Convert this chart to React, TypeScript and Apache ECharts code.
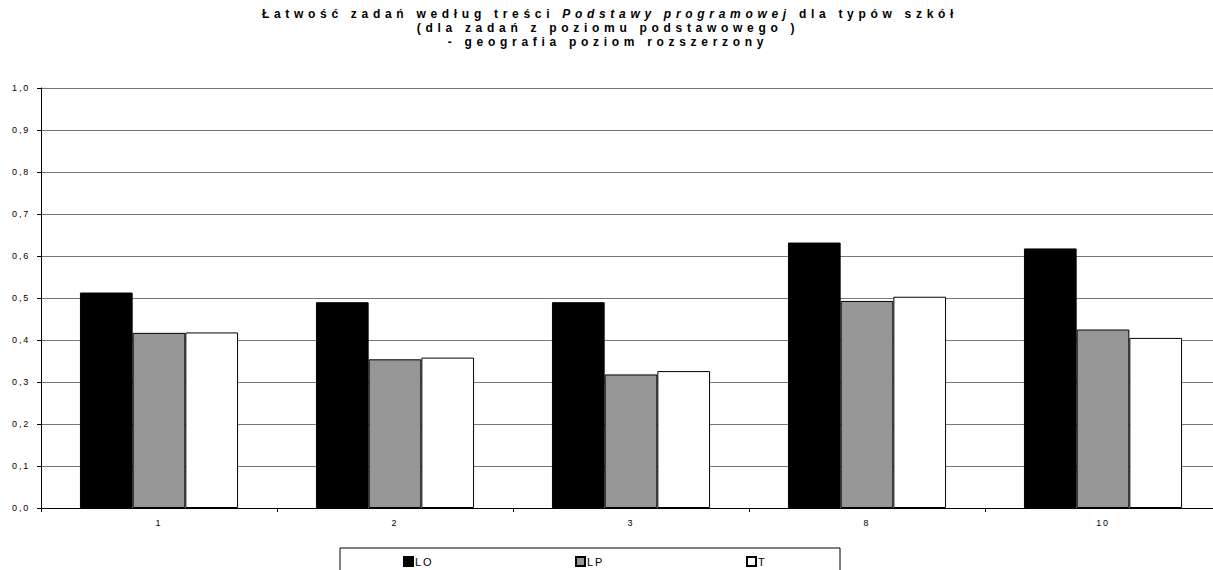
import React, { useEffect, useRef } from "react";
import * as echarts from "echarts";

// ---- data ----
const categories = ["1", "2", "3", "8", "10"];
const seriesNames = ["LO", "LP", "T"];
const valuesLO = [0.513, 0.49, 0.49, 0.632, 0.618];
const valuesLP = [0.417, 0.354, 0.318, 0.493, 0.425];
const valuesT = [0.418, 0.358, 0.326, 0.503, 0.405];
const yTickLabels = ["0,0", "0,1", "0,2", "0,3", "0,4", "0,5", "0,6", "0,7", "0,8", "0,9", "1,0"];

const titleLine1 = [
  { text: "Łatwość zadań według treści", italic: false },
  { text: "Podstawy programowej", italic: true },
  { text: "dla typów szkół", italic: false },
];
const titleLine2 = "(dla zadań z poziomu podstawowego )";
const titleLine3 = "- geografia poziom rozszerzony";

// ---- style ----
const FONT = "Liberation Sans";
const TITLE_SIZE = 12;
const TITLE_SPACING = 4.7;
const LABEL_SPACING = 1.8;
const TITLE_CX = 610;
const barColors = ["#000000", "#969696", "#ffffff"];

export default function App() {
  const ref = useRef<HTMLDivElement>(null);

  useEffect(() => {
    const el = ref.current!;
    const chart = echarts.init(el, null, { renderer: "svg" });

    const canvas = document.createElement("canvas");
    const ctx = canvas.getContext("2d")!;
    const measure = (s: string, italic: boolean) => {
      ctx.font = `${italic ? "italic " : ""}bold ${TITLE_SIZE}px "${FONT}"`;
      return ctx.measureText(s).width + s.length * TITLE_SPACING;
    };
    const gap = measure(" ", false);
    const widths = titleLine1.map((s) => measure(s.text, s.italic));
    const total = widths.reduce((a, b) => a + b, 0) + gap * (titleLine1.length - 1);
    let x = TITLE_CX - total / 2;
    const titleEls: any[] = [];
    titleLine1.forEach((s, i) => {
      titleEls.push({
        type: "text",
        x,
        y: 14,
        style: {
          text: s.text,
          fill: "#000",
          fontFamily: FONT,
          fontSize: TITLE_SIZE,
          fontWeight: "bold",
          fontStyle: s.italic ? "italic" : "normal",
          align: "left",
          verticalAlign: "middle",
        },
      });
      x += widths[i] + gap;
    });
    [titleLine2, titleLine3].forEach((t, i) => {
      titleEls.push({
        type: "text",
        x: TITLE_CX - 2,
        y: 28 + i * 14,
        style: {
          text: t,
          fill: "#000",
          fontFamily: FONT,
          fontSize: TITLE_SIZE,
          fontWeight: "bold",
          align: "center",
          verticalAlign: "middle",
        },
      });
    });

    const seriesData = [valuesLO, valuesLP, valuesT];
    const legendLefts = [403, 575, 746];

    const option: any = {
      animation: false,
      backgroundColor: "#ffffff",
      grid: { left: 41, top: 88, right: 1, bottom: 62 },
      xAxis: {
        type: "category",
        data: categories,
        boundaryGap: true,
        axisLine: { lineStyle: { color: "#000", width: 1 } },
        axisTick: { show: true, length: 4, lineStyle: { color: "#000" } },
        axisLabel: { color: "#000", fontFamily: FONT, fontSize: 9, margin: 10 },
        splitLine: { show: false },
      },
      yAxis: {
        type: "value",
        min: 0,
        max: 1,
        interval: 0.1,
        axisLine: { show: true, lineStyle: { color: "#000", width: 1 } },
        axisTick: { show: true, length: 4, lineStyle: { color: "#000" } },
        axisLabel: {
          color: "#000",
          fontFamily: FONT,
          fontSize: 9,
          margin: 11,
          formatter: (v: number) => yTickLabels[Math.round(v * 10)],
        },
        splitLine: { show: true, lineStyle: { color: "#777777", width: 1 } },
      },
      legend: seriesNames.map((n, i) => ({
        data: [n],
        left: legendLefts[i],
        top: 556,
        padding: 0,
        itemWidth: 9,
        itemHeight: 9,
        icon: "rect",
        textStyle: { color: "#000", fontFamily: FONT, fontSize: 11, padding: [0, 0, 0, -3] },
      })),
      graphic: [
        ...titleEls,
        {
          type: "rect",
          shape: { x: 340, y: 548, width: 500, height: 40 },
          style: { fill: "none", stroke: "#000", lineWidth: 1 },
          silent: true,
        },
      ],
      series: seriesNames.map((n, i) => ({
        name: n,
        type: "bar",
        data: seriesData[i],
        barGap: "0%",
        barCategoryGap: "33%",
        itemStyle: { color: barColors[i], borderColor: "#000", borderWidth: 1 },
      })),
    };

    chart.setOption(option);

    const applySpacing = () => {
      el.querySelectorAll("text").forEach((t) => {
        const fw = getComputedStyle(t).fontWeight;
        const bold = fw === "bold" || parseInt(fw, 10) >= 600;
        (t as SVGTextElement).style.letterSpacing = bold ? `${TITLE_SPACING}px` : `${LABEL_SPACING}px`;
      });
    };
    applySpacing();
    chart.on("finished", applySpacing);

    return () => {
      chart.dispose();
    };
  }, []);

  return (
    <div
      ref={ref}
      style={{ position: "fixed", left: 0, top: 0, width: 1222, height: 570, background: "#fff" }}
    />
  );
}
